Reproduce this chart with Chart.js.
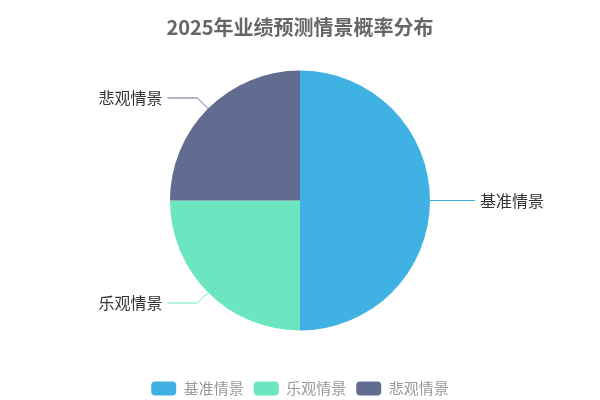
<!DOCTYPE html>
<html>
<head>
<meta charset="utf-8">
<script src="https://cdn.jsdelivr.net/npm/chart.js@4/dist/chart.umd.min.js"></script>
<style>
  html, body { margin: 0; padding: 0; background: #fff; }
  #wrap { width: 600px; height: 400px; }
</style>
</head>
<body>
<div id="wrap"><canvas id="pieChart"></canvas></div>
<script>
// Chart data
const scenarios = ['基准情景', '乐观情景', '悲观情景'];
const probabilities = [50, 25, 25];
const sliceColors = ['#3fb1e3', '#6be6c1', '#626c91'];

const FONT = "'Noto Sans CJK SC', 'Noto Sans', sans-serif";

// Outside labels with leader lines
const outsideLabels = {
  id: 'outsideLabels',
  afterDatasetsDraw(chart) {
    const ctx = chart.ctx;
    const arcs = chart.getDatasetMeta(0).data;
    ctx.save();
    ctx.font = '16px ' + FONT;
    ctx.textBaseline = 'middle';
    arcs.forEach((arc, i) => {
      const mid = (arc.startAngle + arc.endAngle) / 2;
      const r = arc.outerRadius;
      const cos = Math.cos(mid), sin = Math.sin(mid);
      const x0 = arc.x + cos * r, y0 = arc.y + sin * r;
      const x1 = arc.x + cos * (r + 15), y1 = arc.y + sin * (r + 15);
      const right = cos >= 0;
      const x2 = x1 + (right ? 30 : -30);
      ctx.strokeStyle = sliceColors[i];
      ctx.lineWidth = 1;
      ctx.beginPath();
      ctx.moveTo(x0, y0);
      ctx.lineTo(x1, y1);
      ctx.lineTo(x2, y1);
      ctx.stroke();
      ctx.fillStyle = '#333';
      ctx.textAlign = right ? 'left' : 'right';
      ctx.fillText(scenarios[i], x2 + (right ? 5 : -5), y1);
    });
    ctx.restore();
  }
};

new Chart(document.getElementById('pieChart'), {
  type: 'pie',
  data: {
    labels: scenarios,
    datasets: [{
      data: probabilities,
      backgroundColor: sliceColors,
      borderWidth: 0,
      radius: 130
    }]
  },
  options: {
    responsive: true,
    maintainAspectRatio: false,
    animation: false,
    layout: { padding: { top: 0, bottom: -6 } },
    plugins: {
      title: {
        display: true,
        text: '2025年业绩预测情景概率分布',
        color: '#666',
        font: { family: FONT, size: 20, weight: 'bold' },
        padding: { top: 15, bottom: -9 }
      },
      legend: {
        position: 'bottom',
        labels: {
          color: '#999',
          font: { family: FONT, size: 15 },
          boxWidth: 25,
          boxHeight: 14,
          useBorderRadius: true,
          borderRadius: 4,
          padding: 10
        }
      },
      tooltip: { enabled: false }
    }
  },
  plugins: [outsideLabels]
});
</script>
</body>
</html>
